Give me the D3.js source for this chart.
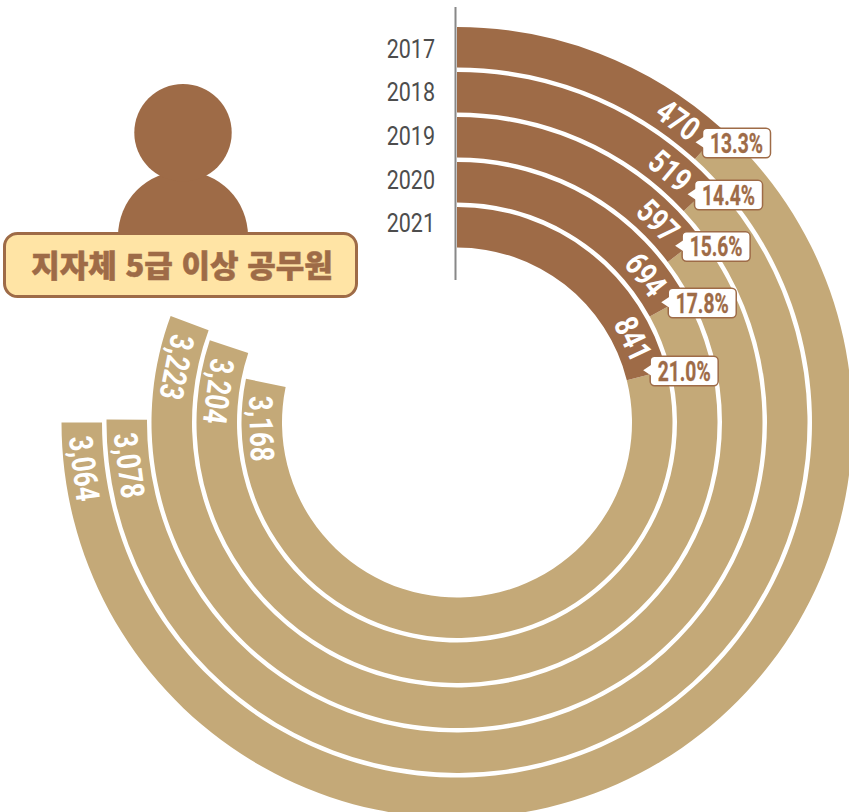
<!DOCTYPE html>
<html lang="ko">
<head>
<meta charset="utf-8">
<script src="https://cdn.jsdelivr.net/npm/d3@7"></script>
<style>
  html, body { margin: 0; background: #fff; }
  svg { display: block; }
  text { font-family: Roboto, sans-serif; }
</style>
</head>
<body>
<div id="chart"></div>
<script>
const years = ["2017", "2018", "2019", "2020", "2021"];
const seniorCounts = [470, 519, 597, 694, 841];
const otherCounts = [3064, 3078, 3223, 3204, 3168];
const shares = ["13.3%", "14.4%", "15.6%", "17.8%", "21.0%"];
const title = "지자체 5급 이상 공무원";

const width = 849;
const height = 812;
const cx = 457;
const cy = 422.5;
const brown = "#9e6b47";
const tan = "#c4a978";
const rad = Math.PI / 180;

const svg = d3
    .select("#chart")
    .append("svg")
    .attr("width", width)
    .attr("height", height);

// rings, 2021 is the inner one
const ring = d3
    .scaleBand()
    .domain(years.slice().reverse())
    .range([175, 395.5])
    .paddingInner(0.1);

// brown part, degrees clockwise from 12 o'clock
const seniorAngle = d3
    .scaleLinear()
    .domain(seniorCounts)
    .range([42.1, 47, 52.7, 61.2, 76]);

// the tan part ends further round for bigger values, not quite linear in the original
const endAngle = d3
    .scaleLinear()
    .domain(otherCounts.slice().sort(d3.ascending))
    .range([270, 270.5, 281.7, 288.4, 290.4]);

const rows = years.map((year, i) => ({
    year,
    senior: seniorCounts[i],
    other: otherCounts[i],
    share: shares[i],
    split: seniorAngle(seniorCounts[i]),
    end: endAngle(otherCounts[i]),
    inner: ring(year),
    outer: ring(year) + ring.bandwidth(),
    mid: ring(year) + ring.bandwidth() / 2
}));

const g = svg.append("g").attr("transform", `translate(${cx},${cy})`);
const arc = d3.arc();

g.selectAll(".other")
    .data(rows)
    .enter()
    .append("path")
    .attr("class", "other")
    .attr("fill", tan)
    .attr("d", (d) => arc({
        innerRadius: d.inner,
        outerRadius: d.outer,
        startAngle: d.split * rad,
        endAngle: d.end * rad
    }));

g.selectAll(".senior")
    .data(rows)
    .enter()
    .append("path")
    .attr("class", "senior")
    .attr("fill", brown)
    .attr("d", (d) => arc({
        innerRadius: d.inner,
        outerRadius: d.outer,
        startAngle: 0,
        endAngle: d.split * rad
    }));

// squeeze a text to the condensed look of the original
function squeeze(sel, k) {
    sel.attr("textLength", function () { return this.getComputedTextLength() * k; })
        .attr("lengthAdjust", "spacingAndGlyphs");
}

// value labels, set back from the end of their arc by a fixed arc length
g.selectAll(".senior-label")
    .data(rows)
    .enter()
    .append("text")
    .attr("class", "senior-label")
    .attr("transform", (d) => {
        const a = d.split - (39 / d.mid) / rad;
        const [x, y] = d3.pointRadial(a * rad, d.mid);
        return `translate(${x},${y}) rotate(${a})`;
    })
    .attr("text-anchor", "middle")
    .attr("dy", "0.36em")
    .attr("fill", "#fff")
    .attr("font-size", 33)
    .attr("font-weight", 700)
    .text((d) => d.senior)
    .call(squeeze, 0.78);

g.selectAll(".other-label")
    .data(rows)
    .enter()
    .append("text")
    .attr("class", "other-label")
    .attr("transform", (d) => {
        const a = d.end - (46 / d.mid) / rad;
        const [x, y] = d3.pointRadial(a * rad, d.mid);
        return `translate(${x},${y}) rotate(${a - 180})`;
    })
    .attr("text-anchor", "middle")
    .attr("dy", "0.36em")
    .attr("fill", "#fff")
    .attr("font-size", 33)
    .attr("font-weight", 700)
    .text((d) => d3.format(",")(d.other))
    .call(squeeze, 0.78);

// share tags with a little pointer on the left
const tags = g
    .selectAll(".tag")
    .data(rows)
    .enter()
    .append("g")
    .attr("class", "tag")
    .attr("transform", (d) => {
        const [x, y] = d3.pointRadial((d.split - 1.7) * rad, d.mid * 0.97 + 4);
        return `translate(${x},${y})`;
    });

tags.append("rect")
    .attr("x", 7)
    .attr("y", -14)
    .attr("width", 68)
    .attr("height", 29.5)
    .attr("rx", 4.5)
    .attr("fill", "#fff")
    .attr("stroke", brown)
    .attr("stroke-width", 1.5);

tags.append("path")
    .attr("d", "M0,0L9,-6L9,6Z")
    .attr("fill", "#fff");

tags.append("text")
    .attr("x", 41)
    .attr("y", 10.5)
    .attr("text-anchor", "middle")
    .attr("fill", brown)
    .attr("stroke", brown)
    .attr("stroke-width", 0.3)
    .attr("font-size", 27.5)
    .attr("font-weight", 700)
    .text((d) => d.share)
    .call(squeeze, 0.7);

// year axis
const yearScale = d3.scalePoint().domain(years).range([49, 223.7]);

const yearAxis = svg
    .append("g")
    .attr("transform", "translate(435,0)")
    .call(d3.axisLeft(yearScale).tickSize(0).tickPadding(0));

yearAxis.select(".domain").remove();
yearAxis
    .selectAll("text")
    .style("font-family", "Roboto, sans-serif")
    .attr("font-size", 25)
    .attr("fill", "#4d4d4d")
    .call(squeeze, 0.86);

svg.append("line")
    .attr("x1", 455.5)
    .attr("x2", 455.5)
    .attr("y1", 7)
    .attr("y2", 280)
    .attr("stroke", "#888")
    .attr("stroke-width", 2);

// person icon and title box
g.append("path")
    .attr("transform", `translate(${183 - cx},${236 - cy})`)
    .attr("fill", brown)
    .attr("d", arc({
        innerRadius: 0,
        outerRadius: 65,
        startAngle: -Math.PI / 2,
        endAngle: Math.PI / 2
    }));

svg.append("circle")
    .attr("cx", 183)
    .attr("cy", 132.7)
    .attr("r", 48.7)
    .attr("fill", brown);

svg.append("rect")
    .attr("x", 4.5)
    .attr("y", 233.5)
    .attr("width", 352)
    .attr("height", 63)
    .attr("rx", 13)
    .attr("fill", "#ffe4a5")
    .attr("stroke", brown)
    .attr("stroke-width", 3);

svg.append("text")
    .attr("x", 182)
    .attr("y", 276.5)
    .attr("text-anchor", "middle")
    .style("font-family", "'Noto Sans CJK KR', sans-serif")
    .attr("font-size", 31)
    .attr("font-weight", 900)
    .attr("fill", brown)
    .attr("stroke", brown)
    .attr("stroke-width", 0.5)
    .text(title);
</script>
</body>
</html>
